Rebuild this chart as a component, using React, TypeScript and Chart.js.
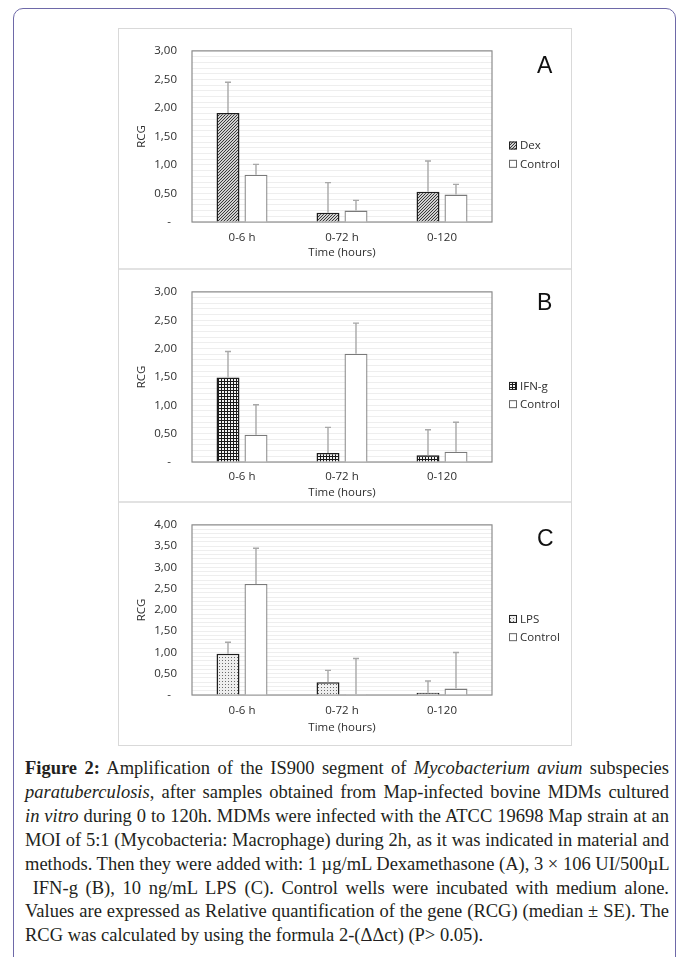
import React, { useEffect, useRef } from 'react';
import { Chart, registerables } from 'chart.js';

Chart.register(...registerables);

// ---------- data ----------
const categories = ['0-6 h', '0-72 h', '0-120'];
const yTickLabels3 = ['-  ', '0,50', '1,00', '1,50', '2,00', '2,50', '3,00'];
const yTickLabels4 = ['-  ', '0,50', '1,00', '1,50', '2,00', '2,50', '3,00', '3,50', '4,00'];

const dexValues = [1.91, 0.16, 0.53];
const dexErrors = [0.54, 0.53, 0.54];
const controlAValues = [0.83, 0.2, 0.48];
const controlAErrors = [0.18, 0.18, 0.18];

const ifnValues = [1.49, 0.16, 0.12];
const ifnErrors = [0.46, 0.45, 0.45];
const controlBValues = [0.48, 1.91, 0.18];
const controlBErrors = [0.53, 0.54, 0.52];

const lpsValues = [0.97, 0.3, 0.05];
const lpsErrors = [0.27, 0.28, 0.28];
const controlCValues = [2.61, 0.02, 0.15];
const controlCErrors = [0.84, 0.84, 0.85];

const captionLines = [
  [{ t: 'Figure 2:', b: true }, { t: ' Amplification of the IS900 segment of ' }, { t: 'Mycobacterium avium', i: true }, { t: ' subspecies' }],
  [{ t: 'paratuberculosis', i: true }, { t: ', after samples obtained from Map-infected bovine MDMs cultured' }],
  [{ t: 'in vitro', i: true }, { t: ' during 0 to 120h. MDMs were infected with the ATCC 19698 Map strain at an' }],
  [{ t: 'MOI of 5:1 (Mycobacteria: Macrophage) during 2h, as it was indicated in material and' }],
  [{ t: 'methods. Then they were added with: 1 µg/mL Dexamethasone (A), 3 × 106 UI/500µL' }],
  [{ t: '\u00a0IFN-g (B), 10 ng/mL LPS (C). Control wells were incubated with medium alone.' }],
  [{ t: 'Values are expressed as Relative quantification of the gene (RCG) (median ± SE). The' }],
  [{ t: 'RCG was calculated by using the formula 2-(ΔΔct) (P> 0.05).' }],
];

// ---------- helpers ----------
const FONT = "'Open Sans', sans-serif";
const TEXT = '#2e2e2e';

function makePattern(kind: string): CanvasPattern | string {
  const c = document.createElement('canvas');
  const ctx = c.getContext('2d');
  if (!ctx) return '#888';
  if (kind === 'diag') {
    c.width = 3; c.height = 3;
    ctx.fillStyle = '#d0d0d0';
    ctx.fillRect(0, 0, 3, 3);
    ctx.fillStyle = '#3a3a3a';
    ctx.fillRect(2, 0, 1, 1);
    ctx.fillRect(1, 1, 1, 1);
    ctx.fillRect(0, 2, 1, 1);
  } else if (kind === 'grid') {
    c.width = 3; c.height = 3;
    ctx.fillStyle = '#f4f4f4';
    ctx.fillRect(0, 0, 3, 3);
    ctx.fillStyle = '#1a1a1a';
    ctx.fillRect(0, 0, 3, 1);
    ctx.fillRect(0, 0, 1, 3);
  } else {
    c.width = 3; c.height = 3;
    ctx.fillStyle = '#eeeeee';
    ctx.fillRect(0, 0, 3, 3);
    ctx.fillStyle = '#6a6a6a';
    ctx.fillRect(1, 1, 1, 1);
  }
  return ctx.createPattern(c, 'repeat') || '#888';
}

const decorPlugin = {
  id: 'panelDecor',
  beforeDatasetsDraw(chart: any) {
    const { ctx, chartArea } = chart;
    ctx.save();
    ctx.strokeStyle = '#8c8c8c';
    ctx.lineWidth = 1.2;
    ctx.strokeRect(chartArea.left, chartArea.top, chartArea.right - chartArea.left, chartArea.bottom - chartArea.top);
    ctx.restore();
  },
  afterDatasetsDraw(chart: any) {
    const { ctx, chartArea } = chart;
    const yScale = chart.scales.y;
    // error bars
    chart.data.datasets.forEach((ds: any, i: number) => {
      const meta = chart.getDatasetMeta(i);
      meta.data.forEach((bar: any, j: number) => {
        const top = yScale.getPixelForValue(ds.data[j] + ds.errors[j]);
        ctx.save();
        ctx.strokeStyle = '#a8a8a8';
        ctx.lineWidth = 1.4;
        ctx.beginPath();
        ctx.moveTo(bar.x, bar.y);
        ctx.lineTo(bar.x, top);
        ctx.moveTo(bar.x - 3, top);
        ctx.lineTo(bar.x + 3, top);
        ctx.stroke();
        ctx.restore();
      });
    });
    const opts = chart.options.plugins.panelDecor || {};
    // legend
    const h = chartArea.bottom - chartArea.top;
    chart.data.datasets.forEach((ds: any, i: number) => {
      const cy = chartArea.top + h * (0.553 + 0.107 * i);
      const bx = chartArea.right + 17;
      ctx.save();
      ctx.fillStyle = ds.backgroundColor;
      ctx.fillRect(bx, cy - 4, 8, 8);
      ctx.strokeStyle = i === 0 ? '#222' : '#666';
      ctx.lineWidth = 1;
      ctx.strokeRect(bx + 0.5, cy - 3.5, 7, 7);
      ctx.fillStyle = TEXT;
      ctx.font = `11.5px ${FONT}`;
      ctx.textBaseline = 'middle';
      ctx.textAlign = 'left';
      ctx.fillText(ds.label, bx + 11, cy + 0.5);
      ctx.restore();
    });
    // panel letter
    ctx.save();
    ctx.fillStyle = '#111';
    ctx.font = "23px 'Liberation Sans', Arial, sans-serif";
    ctx.textBaseline = 'middle';
    ctx.textAlign = 'left';
    ctx.fillText(opts.letter || '', chartArea.right + 45, chartArea.top + (opts.letterDy || 16));
    ctx.restore();
  },
};

type PanelProps = {
  top: number;
  height: number;
  padTop: number;
  areaH: number;
  yMax: number;
  yLabels: string[];
  letter: string;
  letterDy: number;
  titlePadBottom: number;
  tickPad: number;
  treatLabel: string;
  treatValues: number[];
  treatErrors: number[];
  pattern: string;
  ctrlValues: number[];
  ctrlErrors: number[];
};

function Panel(p: PanelProps) {
  const ref = useRef<HTMLCanvasElement>(null);
  useEffect(() => {
    if (!ref.current) return;
    const xHeight = p.height - p.padTop - p.areaH;
    const chart = new Chart(ref.current, {
      type: 'bar',
      data: {
        labels: categories,
        datasets: [
          {
            label: p.treatLabel,
            data: p.treatValues,
            errors: p.treatErrors,
            backgroundColor: makePattern(p.pattern),
            borderColor: '#1e1e1e',
            borderWidth: 1.5,
            categoryPercentage: 0.56,
            barPercentage: 0.82,
          } as any,
          {
            label: 'Control',
            data: p.ctrlValues,
            errors: p.ctrlErrors,
            backgroundColor: '#ffffff',
            borderColor: '#7a7a7a',
            borderWidth: 1.3,
            categoryPercentage: 0.56,
            barPercentage: 0.82,
          } as any,
        ],
      },
      options: {
        animation: false,
        responsive: false,
        devicePixelRatio: 1,
        layout: { padding: { left: 0, right: 79, top: p.padTop, bottom: 0 } },
        plugins: {
          legend: { display: false },
          tooltip: { enabled: false },
          panelDecor: { letter: p.letter, letterDy: p.letterDy },
        } as any,
        scales: {
          x: {
            grid: { display: false, drawTicks: false },
            border: { display: false },
            ticks: { color: TEXT, font: { family: FONT, size: 11.5 }, padding: p.tickPad },
            title: {
              display: true,
              text: 'Time (hours)',
              color: TEXT,
              font: { family: FONT, size: 11.5 },
              padding: { top: 0, bottom: p.titlePadBottom },
            },
            afterFit: (s: any) => { s.height = xHeight; },
          },
          y: {
            min: 0,
            max: p.yMax,
            grid: { color: '#eeeeee', lineWidth: 1, drawTicks: false },
            border: { display: false },
            ticks: {
              stepSize: 0.1,
              autoSkip: false,
              padding: 15,
              color: TEXT,
              font: { family: FONT, size: 11.5 },
              callback: (v: any) => {
                const k = Math.round(Number(v) * 10);
                if (k % 5 !== 0) return '';
                return p.yLabels[k / 5];
              },
            },
            title: {
              display: true,
              text: 'RCG',
              color: TEXT,
              font: { family: FONT, size: 11.5 },
              padding: { top: 16, bottom: 0 },
            },
            afterFit: (s: any) => { s.width = 73; },
          },
        },
      },
      plugins: [decorPlugin as any],
    });
    return () => chart.destroy();
  }, []);
  return (
    <canvas
      ref={ref}
      width={452}
      height={p.height}
      style={{ position: 'absolute', left: 119, top: p.top, width: 452, height: p.height, background: '#fff' }}
    />
  );
}

export default function App() {
  return (
    <div style={{ position: 'absolute', left: 0, top: 0, width: 679, height: 957, overflow: 'hidden', background: '#fff' }}>
      <div
        style={{
          position: 'absolute', left: 13, top: 8, width: 663, height: 1100,
          border: '1.5px solid #6e69a8', borderRadius: 10, boxSizing: 'border-box',
        }}
      />
      <div
        style={{
          position: 'absolute', left: 118, top: 28, width: 454, height: 718,
          border: '1px solid #d9d9d9', boxSizing: 'border-box',
        }}
      />
      <div style={{ position: 'absolute', left: 119, top: 268, width: 452, height: 2, background: '#e2e2e2' }} />
      <div style={{ position: 'absolute', left: 119, top: 501, width: 452, height: 2, background: '#e2e2e2' }} />

      <Panel top={29} height={239} padTop={11} areaH={182} yMax={3} yLabels={yTickLabels3}
        letter="A" letterDy={16} titlePadBottom={8} tickPad={9}
        treatLabel="Dex" treatValues={dexValues} treatErrors={dexErrors} pattern="diag"
        ctrlValues={controlAValues} ctrlErrors={controlAErrors} />
      <Panel top={270} height={231} padTop={11} areaH={181} yMax={3} yLabels={yTickLabels3}
        letter="B" letterDy={12} titlePadBottom={1} tickPad={8}
        treatLabel="IFN-g" treatValues={ifnValues} treatErrors={ifnErrors} pattern="grid"
        ctrlValues={controlBValues} ctrlErrors={controlBErrors} />
      <Panel top={503} height={242} padTop={11} areaH={181} yMax={4} yLabels={yTickLabels4}
        letter="C" letterDy={15} titlePadBottom={10} tickPad={9}
        treatLabel="LPS" treatValues={lpsValues} treatErrors={lpsErrors} pattern="dots"
        ctrlValues={controlCValues} ctrlErrors={controlCErrors} />

      <div
        style={{
          position: 'absolute', left: 25, top: 757, width: 644,
          fontFamily: "'Liberation Serif', 'Times New Roman', serif", fontSize: 18.5,
          lineHeight: '23.9px', color: '#231f20',
        }}
      >
        {captionLines.map((line, li) => (
          <div
            key={li}
            style={{
              whiteSpace: 'nowrap',
              textAlign: 'justify',
              textAlignLast: li === captionLines.length - 1 ? 'left' : 'justify',
            } as any}
          >
            {line.map((seg: any, si) => (
              <span key={si} style={{ fontWeight: seg.b ? 'bold' : 'normal', fontStyle: seg.i ? 'italic' : 'normal' }}>
                {seg.t}
              </span>
            ))}
          </div>
        ))}
      </div>
    </div>
  );
}
